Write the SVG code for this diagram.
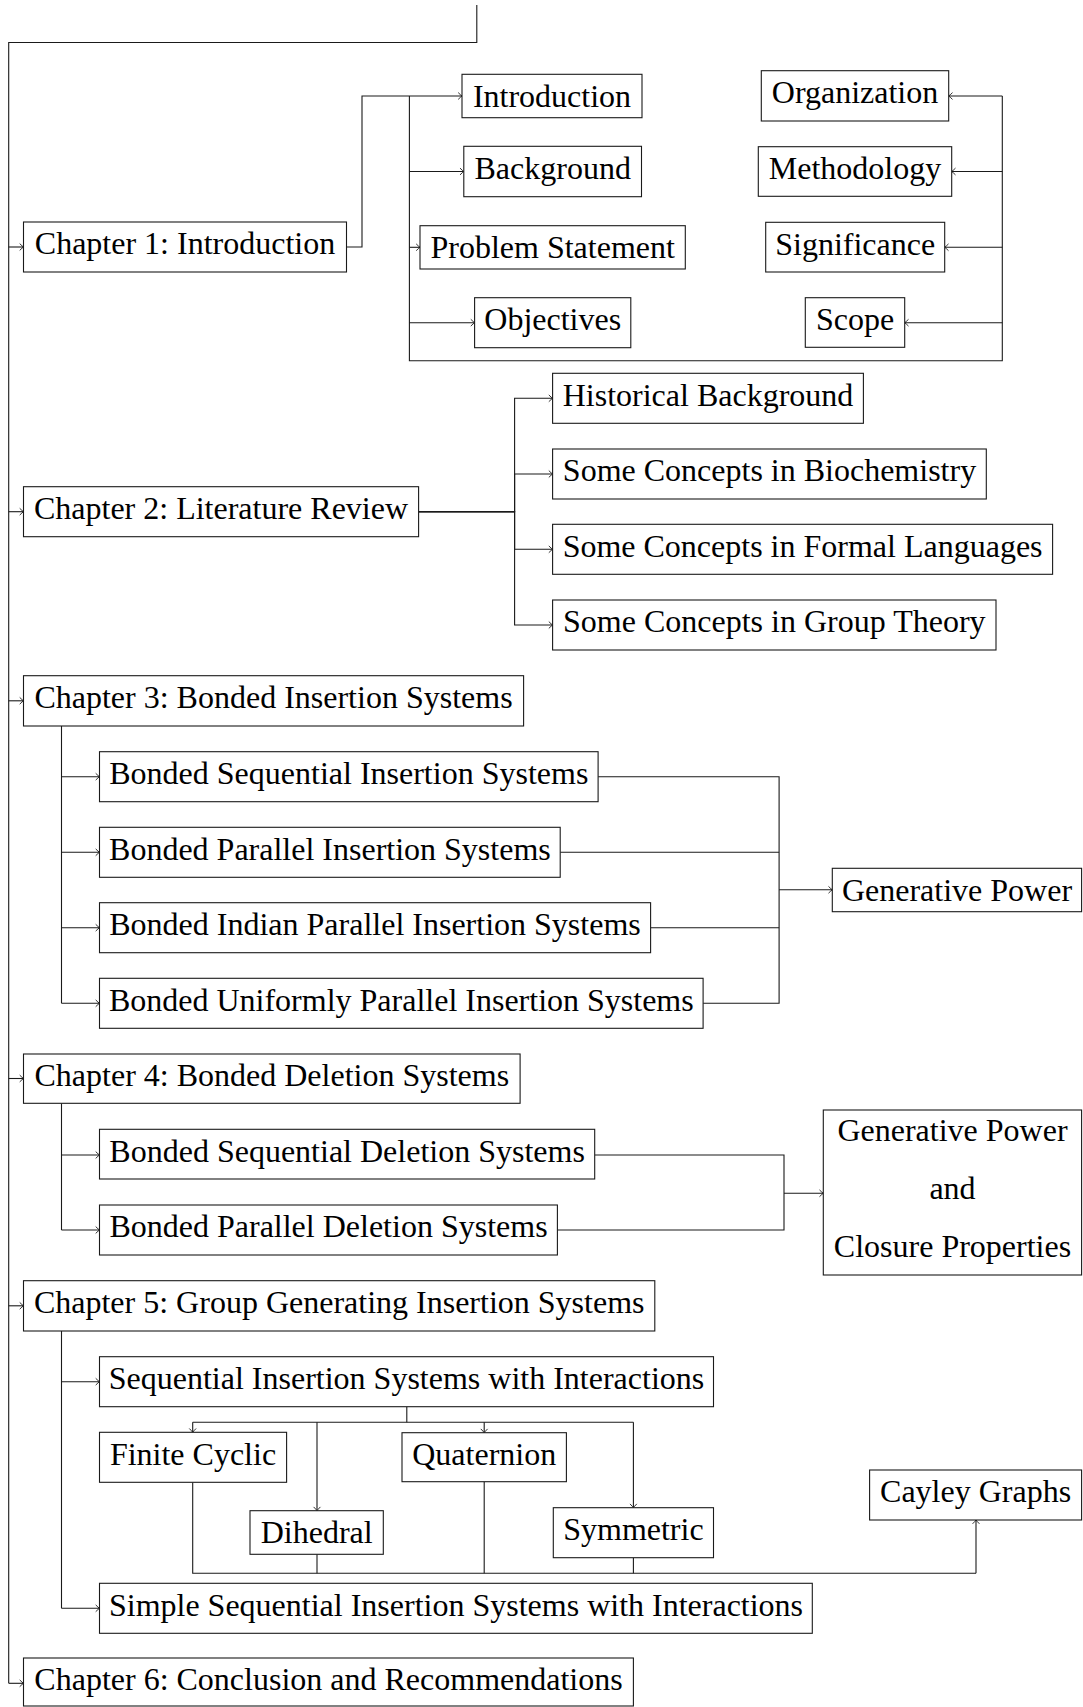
<svg xmlns="http://www.w3.org/2000/svg" width="1083" height="1707" viewBox="0 0 1083 1707">
<style>
.box{fill:#fff;stroke:#1a1a1a;stroke-width:1.1}
.t{font-family:"Liberation Serif","Times New Roman",serif;font-size:32px;text-anchor:middle;fill:#000}
.c{fill:none;stroke:#1a1a1a;stroke-width:1.1}
.a{marker-end:url(#arr)}
</style>
<defs>
<marker id="arr" viewBox="-6 -5 7 10" markerWidth="7" markerHeight="10" refX="0" refY="0" orient="auto" markerUnits="userSpaceOnUse">
<path d="M -3.8 -3.4 Q -1.2 -0.8 0 0 Q -1.2 0.8 -3.8 3.4" fill="none" stroke="#1a1a1a" stroke-width="0.9"/>
</marker>
</defs>
<rect width="1083" height="1707" fill="#fff"/>
<g id="connectors">
<path class="c" d="M476.8 5 V42.5 H8.7 V1683.3"/>
<path class="c a" d="M8.7 247 H23.5"/>
<path class="c a" d="M8.7 511.7 H23.5"/>
<path class="c a" d="M8.7 700.8 H23.5"/>
<path class="c a" d="M8.7 1078.5 H23.5"/>
<path class="c a" d="M8.7 1305.8 H23.5"/>
<path class="c a" d="M8.7 1683.3 H23.5"/>
<path class="c a" d="M346.5 247 H362 V96 H462"/>
<path class="c" d="M409.4 96 V360.7 H1002.3 V96"/>
<path class="c a" d="M409.4 171.5 H463.8"/>
<path class="c a" d="M409.4 247.3 H420"/>
<path class="c a" d="M409.4 322.7 H474.6"/>
<path class="c a" d="M1002.3 96 H948.7"/>
<path class="c a" d="M1002.3 171.5 H951.7"/>
<path class="c a" d="M1002.3 247.3 H944.7"/>
<path class="c a" d="M1002.3 322.7 H904.7"/>
<path class="c a" d="M418.6 511.7 H514.6 V398.3 H552.6"/>
<path class="c a" d="M418.6 511.7 H514.6 V474 H552.6"/>
<path class="c a" d="M418.6 511.7 H514.6 V549.3 H552.6"/>
<path class="c a" d="M418.6 511.7 H514.6 V625 H552.6"/>
<path class="c" d="M61.5 726 V1003.3"/>
<path class="c a" d="M61.5 776.7 H99.5"/>
<path class="c a" d="M61.5 852.3 H99.5"/>
<path class="c a" d="M61.5 927.7 H99.5"/>
<path class="c a" d="M61.5 1003.3 H99.5"/>
<path class="c" d="M598.1 776.7 H779.1 V1003.3 H703.1"/>
<path class="c" d="M560.2 852.3 H779.1"/>
<path class="c" d="M650.6 927.7 H779.1"/>
<path class="c a" d="M779.1 889.8 H832.3"/>
<path class="c" d="M61.5 1103.3 V1230"/>
<path class="c a" d="M61.5 1155 H99.5"/>
<path class="c a" d="M61.5 1230 H99.5"/>
<path class="c" d="M594.7 1155 H784 V1230 H557.4"/>
<path class="c a" d="M784 1193.3 H823.3"/>
<path class="c" d="M61.5 1331 V1608.3"/>
<path class="c a" d="M61.5 1381.7 H99.5"/>
<path class="c a" d="M61.5 1608.3 H99.5"/>
<path class="c" d="M406.8 1406.7 V1422.3"/>
<path class="c" d="M192.7 1422.3 H633.4"/>
<path class="c a" d="M192.7 1422.3 V1432.3"/>
<path class="c a" d="M317 1422.3 V1510.7"/>
<path class="c a" d="M484.2 1422.3 V1432.7"/>
<path class="c a" d="M633.4 1422.3 V1507.7"/>
<path class="c" d="M192.7 1482.3 V1573.3 H976"/>
<path class="c" d="M317 1554.3 V1573.3"/>
<path class="c" d="M484.2 1481.7 V1573.3"/>
<path class="c" d="M633.4 1557.7 V1573.3"/>
<path class="c a" d="M976 1573.3 V1520"/>
</g>
<g id="ch1"><rect class="box" x="23.5" y="222" width="323" height="50"/><text class="t" x="185" y="254.3">Chapter 1: Introduction</text></g>
<g id="intro"><rect class="box" x="462" y="74.3" width="180" height="43.4"/><text class="t" x="552" y="106.6">Introduction</text></g>
<g id="background"><rect class="box" x="463.8" y="146.3" width="177.7" height="50.4"/><text class="t" x="552.7" y="178.6">Background</text></g>
<g id="problem"><rect class="box" x="420" y="225.7" width="265.3" height="43.3"/><text class="t" x="552.7" y="258">Problem Statement</text></g>
<g id="objectives"><rect class="box" x="474.6" y="297.7" width="156.2" height="50"/><text class="t" x="552.7" y="330">Objectives</text></g>
<g id="organization"><rect class="box" x="761.3" y="70.7" width="187.4" height="50.3"/><text class="t" x="855" y="103">Organization</text></g>
<g id="methodology"><rect class="box" x="758.3" y="146.7" width="193.4" height="49.6"/><text class="t" x="855" y="179">Methodology</text></g>
<g id="significance"><rect class="box" x="765.7" y="222.3" width="179" height="49.7"/><text class="t" x="855.2" y="254.6">Significance</text></g>
<g id="scope"><rect class="box" x="805.3" y="297.7" width="99.4" height="49.6"/><text class="t" x="855" y="330">Scope</text></g>
<g id="ch2"><rect class="box" x="23.5" y="486.7" width="395.1" height="50"/><text class="t" x="221" y="519">Chapter 2: Literature Review</text></g>
<g id="historical"><rect class="box" x="552.6" y="373.3" width="310.8" height="50"/><text class="t" x="708" y="405.6">Historical Background</text></g>
<g id="biochem"><rect class="box" x="552.6" y="449" width="433.7" height="50"/><text class="t" x="769.5" y="481.3">Some Concepts in Biochemistry</text></g>
<g id="formal"><rect class="box" x="552.6" y="524.3" width="500" height="50"/><text class="t" x="802.6" y="556.6">Some Concepts in Formal Languages</text></g>
<g id="group"><rect class="box" x="552.6" y="600" width="443.4" height="50"/><text class="t" x="774.3" y="632.3">Some Concepts in Group Theory</text></g>
<g id="ch3"><rect class="box" x="23.5" y="675.7" width="500.1" height="50.3"/><text class="t" x="273.5" y="708">Chapter 3: Bonded Insertion Systems</text></g>
<g id="bseqins"><rect class="box" x="99.5" y="751.7" width="498.6" height="50"/><text class="t" x="348.8" y="784">Bonded Sequential Insertion Systems</text></g>
<g id="bparins"><rect class="box" x="99.5" y="827.3" width="460.7" height="50"/><text class="t" x="329.9" y="859.6">Bonded Parallel Insertion Systems</text></g>
<g id="bindins"><rect class="box" x="99.5" y="902.7" width="551.1" height="50"/><text class="t" x="375" y="935">Bonded Indian Parallel Insertion Systems</text></g>
<g id="bunifins"><rect class="box" x="99.5" y="978.3" width="603.6" height="50"/><text class="t" x="401.3" y="1010.6">Bonded Uniformly Parallel Insertion Systems</text></g>
<g id="genpower"><rect class="box" x="832.3" y="868.3" width="249.3" height="43.4"/><text class="t" x="957" y="900.6">Generative Power</text></g>
<g id="ch4"><rect class="box" x="23.5" y="1054" width="496.6" height="49.3"/><text class="t" x="271.8" y="1086.3">Chapter 4: Bonded Deletion Systems</text></g>
<g id="bseqdel"><rect class="box" x="99.5" y="1129.3" width="495.2" height="49.7"/><text class="t" x="347.1" y="1161.6">Bonded Sequential Deletion Systems</text></g>
<g id="bpardel"><rect class="box" x="99.5" y="1205" width="457.9" height="50"/><text class="t" x="328.5" y="1237.3">Bonded Parallel Deletion Systems</text></g>
<g id="gpcp"><rect class="box" x="823.3" y="1110" width="258.3" height="165"/><text class="t" x="952.5" y="1141">Generative Power</text><text class="t" x="952.5" y="1199">and</text><text class="t" x="952.5" y="1257">Closure Properties</text></g>
<g id="ch5"><rect class="box" x="23.5" y="1280.7" width="631.3" height="50.3"/><text class="t" x="339.2" y="1313">Chapter 5: Group Generating Insertion Systems</text></g>
<g id="sisi"><rect class="box" x="99.5" y="1356.7" width="614" height="50"/><text class="t" x="406.5" y="1389">Sequential Insertion Systems with Interactions</text></g>
<g id="finitecyclic"><rect class="box" x="99.5" y="1432.3" width="187.1" height="50"/><text class="t" x="193" y="1464.6">Finite Cyclic</text></g>
<g id="dihedral"><rect class="box" x="250" y="1510.7" width="133.3" height="43.6"/><text class="t" x="316.7" y="1543">Dihedral</text></g>
<g id="quaternion"><rect class="box" x="402" y="1432.7" width="164.4" height="49"/><text class="t" x="484.2" y="1465">Quaternion</text></g>
<g id="symmetric"><rect class="box" x="553.3" y="1507.7" width="160.2" height="50"/><text class="t" x="633.4" y="1540">Symmetric</text></g>
<g id="cayley"><rect class="box" x="869.6" y="1470" width="212" height="50"/><text class="t" x="975.6" y="1502.3">Cayley Graphs</text></g>
<g id="ssisi"><rect class="box" x="99.5" y="1583.3" width="712.8" height="50"/><text class="t" x="456" y="1615.6">Simple Sequential Insertion Systems with Interactions</text></g>
<g id="ch6"><rect class="box" x="23.5" y="1658" width="609.9" height="48"/><text class="t" x="328.5" y="1690.3">Chapter 6: Conclusion and Recommendations</text></g>
</svg>
